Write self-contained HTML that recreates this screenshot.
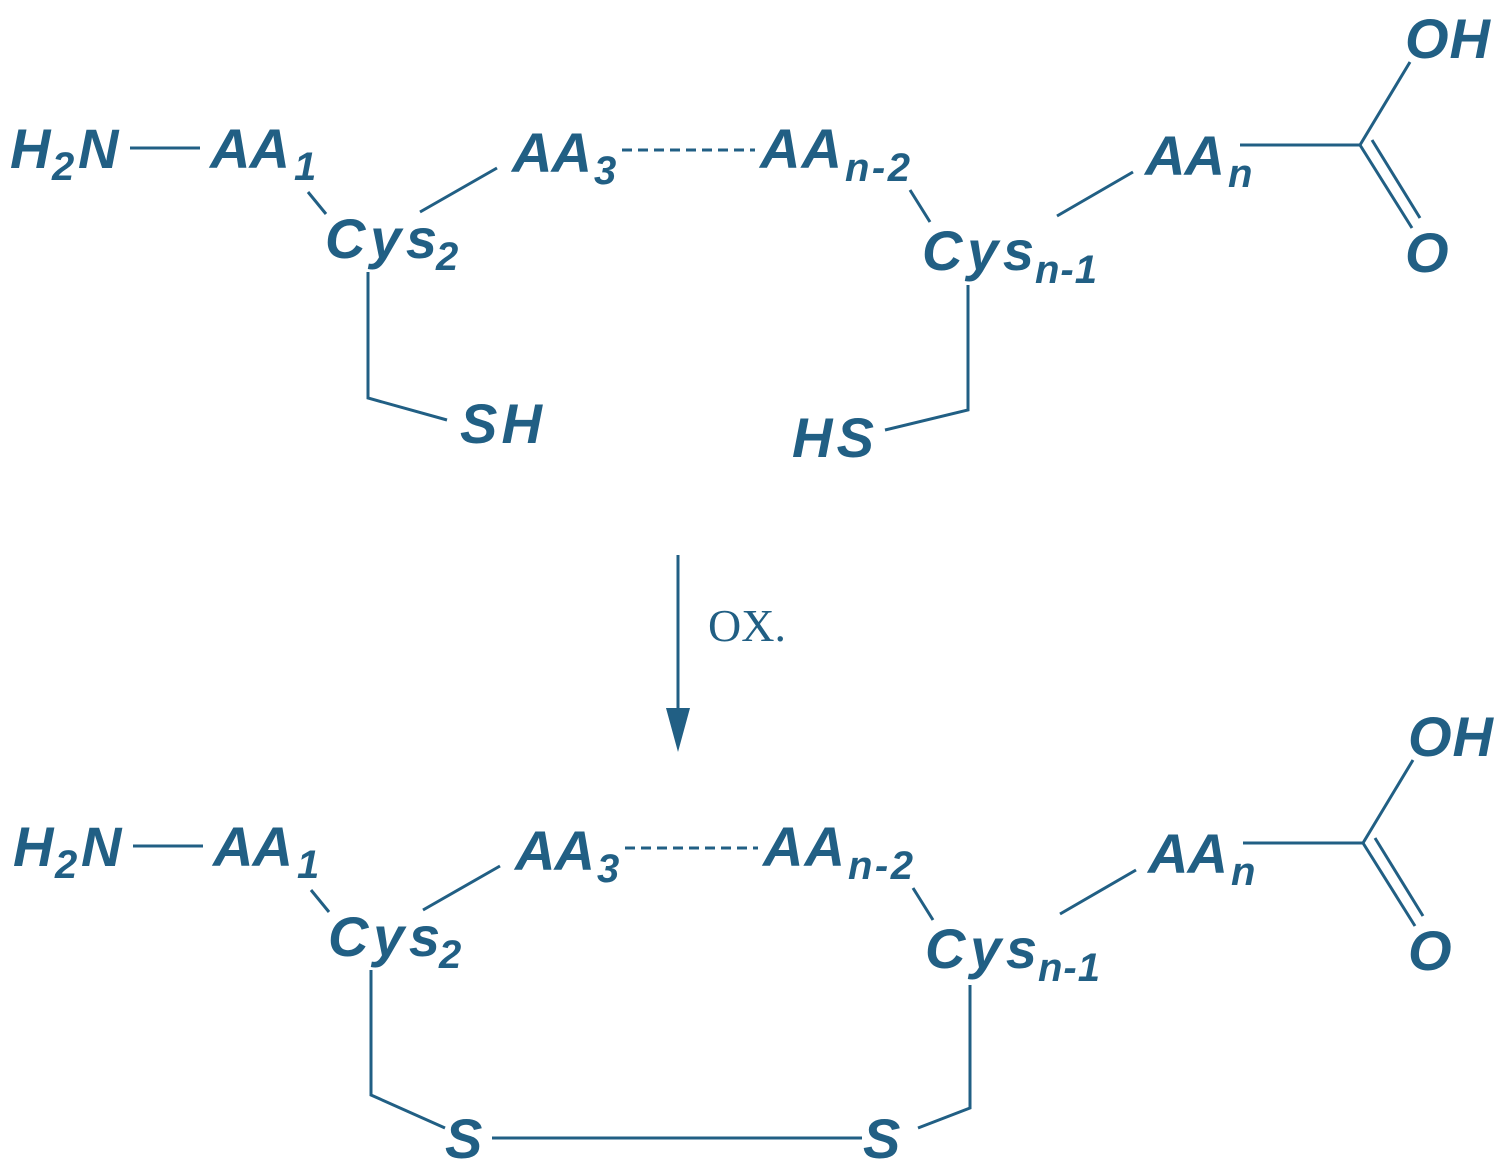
<!DOCTYPE html>
<html><head><meta charset="utf-8"><style>
html,body{margin:0;padding:0;background:#fff;}
svg{display:block}
text{font-family:"Liberation Sans",sans-serif;font-weight:bold;font-style:italic;fill:#215f84;}
.s{font-size:40px}
.m{font-size:56px}
</style></head><body>
<svg width="1504" height="1170" viewBox="0 0 1504 1170" xmlns="http://www.w3.org/2000/svg">
<defs>
<g id="chain">
<g stroke="#215f84" stroke-width="3" fill="none">
<line x1="130" y1="148" x2="200" y2="148"/>
<line x1="308" y1="192" x2="326" y2="214"/>
<line x1="420" y1="212" x2="497" y2="168"/>
<line x1="622" y1="150" x2="755" y2="150" stroke-dasharray="10,6"/>
<line x1="910" y1="190" x2="930" y2="222"/>
<line x1="1057" y1="216" x2="1133" y2="172"/>
<polyline points="1240,145 1360,145 1410,62"/>
<line x1="1360" y1="145" x2="1412" y2="228"/>
<line x1="1372" y1="140" x2="1420" y2="218"/>
</g>
<text class="m" x="10" y="168">H</text><text class="s" x="52" y="180">2</text><text class="m" x="78" y="168">N</text>
<text class="m" x="210" y="168" textLength="80">AA</text><text class="s" x="294" y="180">1</text>
<text class="m" x="325" y="258" textLength="112">Cys</text><text class="s" x="436" y="270">2</text>
<text class="m" x="512" y="172" textLength="80">AA</text><text class="s" x="594" y="184">3</text>
<text class="m" x="760" y="168" textLength="82">AA</text><text class="s" x="845" y="181" textLength="65">n-2</text>
<text class="m" x="922" y="270" textLength="112">Cys</text><text class="s" x="1035" y="283" textLength="62">n-1</text>
<text class="m" x="1145" y="175" textLength="80">AA</text><text class="s" x="1228" y="187">n</text>
<text class="m" x="1405" y="58" textLength="85">OH</text>
<text class="m" x="1405" y="272">O</text>
</g>
</defs>
<use href="#chain"/>
<g stroke="#215f84" stroke-width="3" fill="none">
<polyline points="368,272 368,398 447,420"/>
<polyline points="968,285 968,410 885,430"/>
<line x1="678" y1="555" x2="678" y2="715"/>
</g>
<text class="m" x="460" y="443" textLength="82">SH</text>
<text class="m" x="792" y="457" textLength="82">HS</text>
<polygon points="666,708 690,708 678,752" fill="#215f84"/>
<text x="708" y="641" style="font-family:'Liberation Serif',serif;font-weight:normal;font-style:normal;font-size:46px">OX.</text>
<use href="#chain" transform="translate(3,698)"/>
<g stroke="#215f84" stroke-width="3" fill="none">
<polyline points="371,970 371,1095 445,1128"/>
<line x1="492" y1="1138" x2="862" y2="1138"/>
<polyline points="918,1128 970,1108 970,985"/>
</g>
<text class="m" x="445" y="1158">S</text>
<text class="m" x="863" y="1158">S</text>
</svg>
</body></html>
